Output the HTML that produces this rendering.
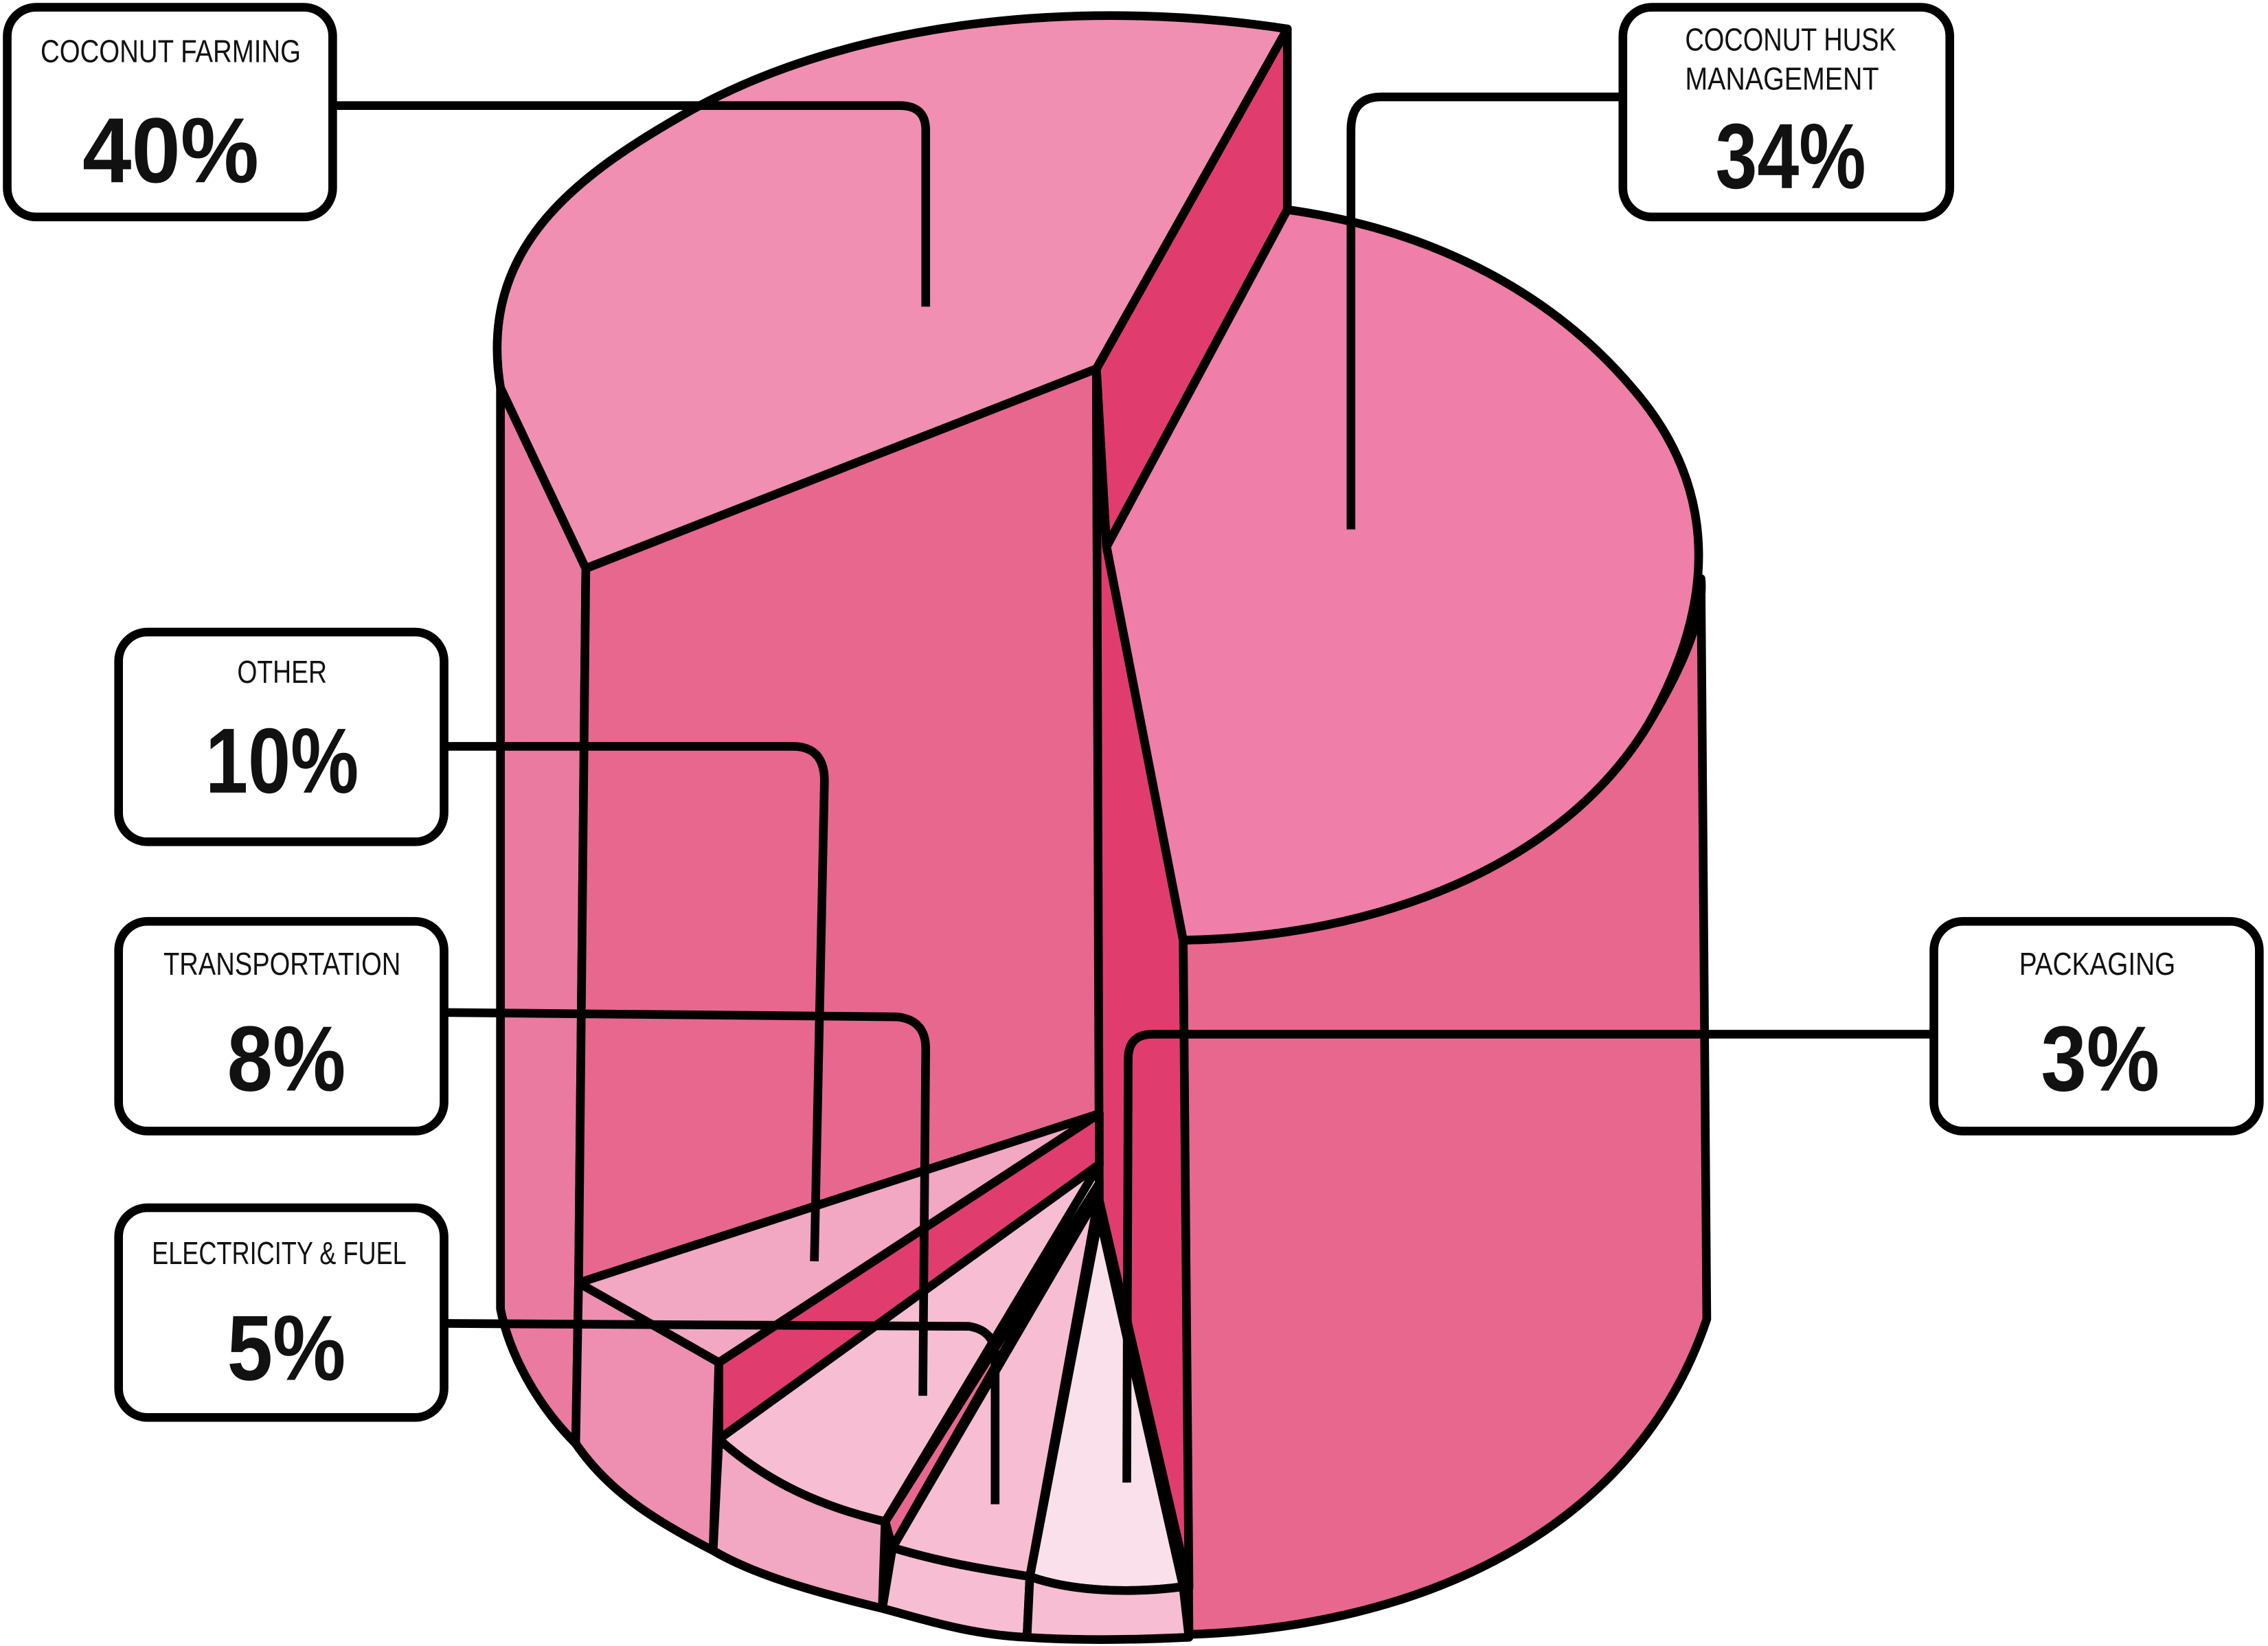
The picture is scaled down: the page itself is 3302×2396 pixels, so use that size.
<!DOCTYPE html>
<html><head><meta charset="utf-8"><style>
html,body{margin:0;padding:0;background:#fff;}
svg{display:block;}
.t{font-family:"Liberation Sans",sans-serif;font-size:22px;fill:#111;}
.p{font-family:"Liberation Sans",sans-serif;font-size:64px;font-weight:bold;fill:#111;}
</style></head><body>
<svg width="3302" height="2396" viewBox="0 0 1568 1138" xmlns="http://www.w3.org/2000/svg" preserveAspectRatio="none">
<g stroke="#000" stroke-width="6" stroke-linejoin="round">
<!-- left outer side -->
<path d="M346,268 L405,393 L400,887 L398,998 C370,970 352,935 346,905 Z" fill="#EA7AA0"/>
<!-- top left face -->
<path d="M346,268 C330,170 400,120 480,75 C600,10 760,0 890,20 L758,255 L405,393 Z" fill="#F08FB2"/>
<!-- dark top strip -->
<path d="M890,20 L890,145 L765,378 L758,255 Z" fill="#E03D6E"/>
<!-- right side -->
<path d="M1176,400 L1180,912 C1130,1060 980,1125 822,1130 L818,650 C950,648 1080,600 1140,500 C1170,450 1178,420 1176,400 Z" fill="#E8678F"/>
<!-- right top -->
<path d="M890,145 C1000,160 1080,210 1130,270 C1190,340 1185,420 1140,500 C1080,600 950,648 818,650 L765,378 Z" fill="#EF7EA8"/>
<!-- inner big face -->
<path d="M405,393 L758,255 L760,770 L400,887 Z" fill="#E8678F"/>
<!-- dark inner strip -->
<path d="M765,378 L818,650 L822,1098 L760,830 L758,255 Z" fill="#E03D6E"/>
<!-- other slice -->
<path d="M400,887 L760,770 L497,942 Z" fill="#F2A7C3"/>
<path d="M400,887 L497,942 L493,1072 C450,1050 420,1030 398,998 Z" fill="#EE8FB2"/>
<path d="M497,942 L760,770 L760,805 L497,995 Z" fill="#E03D6E"/>
<!-- transportation -->
<path d="M497,995 L760,805 L612,1052 C560,1040 525,1020 497,995 Z" fill="#F7BDD3"/>
<path d="M497,995 C525,1020 560,1040 612,1052 L610,1112 C560,1100 520,1088 493,1072 Z" fill="#F2A7C3"/>
<path d="M612,1052 L760,818 L617,1070 Z" fill="#E8678F"/>
<!-- electricity -->
<path d="M617,1070 L760,825 L712,1090 C680,1085 650,1080 617,1070 Z" fill="#F7BDD3"/>
<path d="M617,1070 C650,1080 680,1085 712,1090 L710,1132 C670,1130 640,1120 610,1112 Z" fill="#F7BDD3"/>
<!-- packaging -->
<path d="M712,1090 L760,840 L818,1097 C780,1102 740,1100 712,1090 Z" fill="#F9E0EA"/>
<path d="M712,1090 C740,1100 780,1102 818,1097 L822,1132 C780,1134 740,1134 710,1132 Z" fill="#F7BDD3"/>
</g>
<!-- leader lines -->
<g stroke="#000" stroke-width="6" fill="none">
<path d="M230,73 L622,73 Q640,73 640,90 L640,212"/>
<path d="M1122,67 L955,67 Q934,67 934,90 L934,366"/>
<path d="M307,516 L548,516 Q570,516 570,540 L563,872"/>
<path d="M307,700 L620,703 Q640,705 640,725 L638,965"/>
<path d="M307,915 L670,917 Q688,920 688,938 L688,1040"/>
<path d="M1337,715 L797,715 Q780,715 780,732 L779,1025"/>
</g>
<!-- boxes -->
<g stroke="#000" stroke-width="6" fill="#fff">
<rect x="5" y="5" width="225" height="145" rx="20"/>
<rect x="1122" y="5" width="226" height="145" rx="20"/>
<rect x="82" y="437" width="225" height="145" rx="20"/>
<rect x="82" y="637" width="225" height="145" rx="20"/>
<rect x="82" y="835" width="225" height="145" rx="20"/>
<rect x="1337" y="637" width="225" height="145" rx="20"/>
</g>
<g text-anchor="middle">
<text class="t" x="118" y="43" textLength="180" lengthAdjust="spacingAndGlyphs">COCONUT FARMING</text>
<text class="p" x="118" y="126" textLength="122" lengthAdjust="spacingAndGlyphs">40%</text>
<text class="t" x="1238" y="35" textLength="146" lengthAdjust="spacingAndGlyphs">COCONUT HUSK</text>
<text class="t" x="1232" y="62" textLength="134" lengthAdjust="spacingAndGlyphs">MANAGEMENT</text>
<text class="p" x="1238" y="130" textLength="104" lengthAdjust="spacingAndGlyphs">34%</text>
<text class="t" x="195" y="472" textLength="62" lengthAdjust="spacingAndGlyphs">OTHER</text>
<text class="p" x="195" y="548" textLength="106" lengthAdjust="spacingAndGlyphs">10%</text>
<text class="t" x="195" y="674" textLength="164" lengthAdjust="spacingAndGlyphs">TRANSPORTATION</text>
<text class="p" x="198" y="754" textLength="82" lengthAdjust="spacingAndGlyphs">8%</text>
<text class="t" x="193" y="874" textLength="176" lengthAdjust="spacingAndGlyphs">ELECTRICITY &amp; FUEL</text>
<text class="p" x="198" y="954" textLength="82" lengthAdjust="spacingAndGlyphs">5%</text>
<text class="t" x="1450" y="674" textLength="108" lengthAdjust="spacingAndGlyphs">PACKAGING</text>
<text class="p" x="1452" y="754" textLength="82" lengthAdjust="spacingAndGlyphs">3%</text>
</g>
</svg>
</body></html>
